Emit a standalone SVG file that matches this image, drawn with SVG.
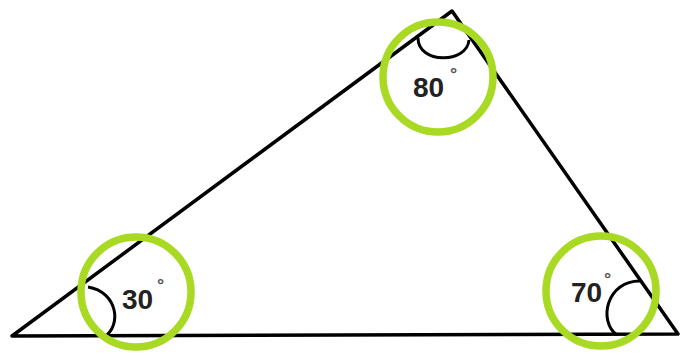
<svg xmlns="http://www.w3.org/2000/svg" width="681" height="355" viewBox="0 0 681 355">
<style>
.edge{fill:none;stroke:#000;stroke-width:3.5;stroke-linecap:round;stroke-linejoin:round}
.arc{fill:none;stroke:#000;stroke-width:3}
.ring{fill:none;stroke:#a8d923;stroke-width:7.5}
.lbl{font-family:"Liberation Sans",Arial,sans-serif;font-weight:bold;font-size:28px;fill:#222}
.deg{font-family:"Liberation Sans",Arial,sans-serif;font-weight:bold;font-size:18px;fill:#555}
</style>
<rect width="681" height="355" fill="#fff"/>
<g id="connectors">
<path class="edge" d="M12 336 L452 11 L678 334 Z"/>
</g>
<g id="angle-top">
<path class="arc" d="M418 38 C418 64 467 64 469 40"/>
<circle class="ring" cx="438" cy="77" r="55"/>
<text class="lbl" x="413" y="97">80<tspan class="deg" x="450" y="80">°</tspan></text>
</g>
<g id="angle-left">
<path class="arc" d="M88 287 C118 292 122 326 104 337"/>
<circle class="ring" cx="136" cy="292" r="55"/>
<text class="lbl" x="122" y="309">30<tspan class="deg" x="157" y="291">°</tspan></text>
</g>
<g id="angle-right">
<path class="arc" d="M641 281 C606 280 598 322 617 335"/>
<circle class="ring" cx="601" cy="291" r="55"/>
<text class="lbl" x="571" y="302">70<tspan class="deg" x="604" y="285">°</tspan></text>
</g>
</svg>
